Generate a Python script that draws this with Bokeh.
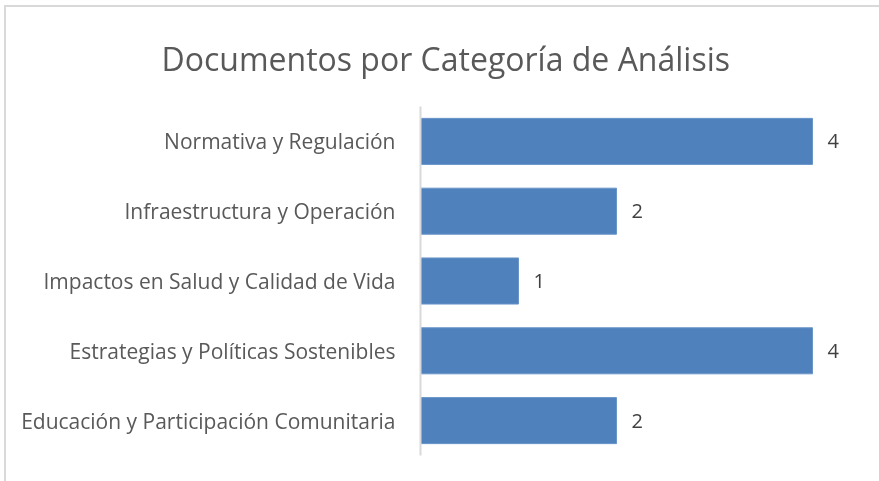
from bokeh.plotting import figure
from bokeh.models import ColumnDataSource, FactorRange, Range1d
from bokeh.core.properties import value
from bokeh.embed import file_html
from bokeh.resources import INLINE

title_text = "Documentos por Categoría de Análisis"
categories = [
    "Educación y Participación Comunitaria",
    "Estrategias y Políticas Sostenibles",
    "Impactos en Salud y Calidad de Vida",
    "Infraestructura y Operación",
    "Normativa y Regulación",
]
counts = [2, 4, 1, 2, 4]

FONT = "Open Sans"
BAR = "#4F81BD"

src = ColumnDataSource(dict(cat=categories, n=counts, lbl=[str(v) for v in counts]))

p = figure(
    width=880, height=480,
    y_range=FactorRange(*categories, range_padding=0),
    x_range=Range1d(0, 4.5),
    output_backend="svg", toolbar_location=None,
    min_border_left=414, min_border_right=25, min_border_top=98, min_border_bottom=32,
)
p.styles = {"position": "fixed", "left": "6px", "top": "7px",
            "box-shadow": "-2px -2px 0 0 #D9D9D9"}
p.outline_line_color = None
p.background_fill_color = "white"
p.border_fill_color = "white"

p.title.text = title_text
p.title.align = "left"
p.title.offset = -259
p.title.standoff = 54
p.title.text_font = FONT
p.title.text_font_size = "32px"
p.title.text_font_style = "normal"
p.title.text_color = "#595959"

p.hbar(y="cat", right="n", left=0, height=0.66, source=src,
       fill_color=BAR, line_color="#6A95C9", line_width=1)

p.text(x="n", y="cat", text="lbl", source=src, x_offset=15,
       text_baseline="middle", text_align="left",
       text_font=value(FONT), text_font_size="20px", text_color="#404040")

p.xaxis.visible = False
p.xgrid.visible = False
p.ygrid.visible = False

ax = p.yaxis[0]
ax.axis_line_color = "#D9D9D9"
ax.axis_line_width = 2
ax.major_tick_line_color = None
ax.minor_tick_line_color = None
ax.major_label_standoff = 19
ax.major_label_text_font = FONT
ax.major_label_text_font_size = "21px"
ax.major_label_text_color = "#595959"

open("out.html", "w").write(file_html(p, INLINE))
